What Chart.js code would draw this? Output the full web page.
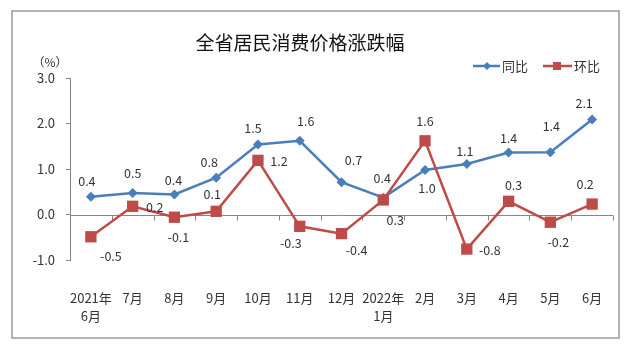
<!DOCTYPE html>
<html>
<head>
<meta charset="utf-8">
<script src="https://cdn.jsdelivr.net/npm/chart.js@4/dist/chart.umd.min.js"></script>
<style>
  html, body { margin: 0; padding: 0; background: #fff; }
  #wrap { width: 633px; height: 353px; }
</style>
</head>
<body>
<div id="wrap"><canvas id="cpi" width="633" height="353"></canvas></div>
<script>
// 数据
const categories = [['2021年', '6月'], '7月', '8月', '9月', '10月', '11月', '12月', ['2022年', '1月'], '2月', '3月', '4月', '5月', '6月'];
const yoyValues = [0.39, 0.47, 0.44, 0.81, 1.54, 1.62, 0.71, 0.37, 0.98, 1.11, 1.36, 1.37, 2.09];
const momValues = [-0.49, 0.18, -0.06, 0.07, 1.19, -0.26, -0.42, 0.32, 1.62, -0.76, 0.29, -0.17, 0.23];
const seriesNames = ['同比', '环比'];
const yMin = -1, yMax = 3, yStep = 1;

// 数据标签的偏移 (相对点的位置)
const yoyLabelOffset = [[-4, -16], [0, -20], [-1, -14], [-7, -15], [-5, -16], [6, -20], [12, -22], [-1, -19], [2, 18], [-2, -13], [0, -14], [1, -26], [-8, -16]];
const momLabelOffset = [[20, 19], [22, 1], [4, 20], [-4, -17], [21, 1], [-9, 17], [15, 17], [12, 20], [0, -20], [23, 1], [5, -16], [8, 20], [-7, -20]];

const FONT = '"Noto Sans CJK SC", "Noto Sans", sans-serif';
const BLUE = '#4A7EBB';
const RED = '#BE4B48';
const AXIS = '#868686';
const TEXT = '#333333';

const framePlugin = {
  id: 'frame',
  beforeDraw(chart) {
    const ctx = chart.ctx;
    ctx.save();
    ctx.strokeStyle = '#9a9a9a';
    ctx.lineWidth = 1.5;
    ctx.strokeRect(12, 11, 607, 327);

    // 标题
    ctx.fillStyle = '#111';
    ctx.font = '19px ' + FONT;
    ctx.textAlign = 'center';
    ctx.textBaseline = 'middle';
    ctx.fillText('全省居民消费价格涨跌幅', 300, 43);

    // 单位
    ctx.fillStyle = TEXT;
    ctx.font = '12px ' + FONT;
    ctx.fillText('（%）', 50, 62);

    // 图例
    const ly = 66;
    ctx.lineWidth = 2.5;
    ctx.strokeStyle = BLUE;
    ctx.beginPath(); ctx.moveTo(473, ly); ctx.lineTo(500, ly); ctx.stroke();
    ctx.fillStyle = BLUE;
    ctx.beginPath();
    ctx.moveTo(487, ly - 4); ctx.lineTo(491, ly); ctx.lineTo(487, ly + 4); ctx.lineTo(483, ly);
    ctx.closePath(); ctx.fill();
    ctx.strokeStyle = RED;
    ctx.beginPath(); ctx.moveTo(543, ly); ctx.lineTo(572, ly); ctx.stroke();
    ctx.fillStyle = RED;
    ctx.fillRect(553, ly - 4, 8, 8);
    ctx.fillStyle = TEXT;
    ctx.font = '13px ' + FONT;
    ctx.textAlign = 'left';
    ctx.fillText(seriesNames[0], 502, ly);
    ctx.fillText(seriesNames[1], 574, ly);
    ctx.restore();
  },
  beforeDatasetsDraw(chart) {
    // 0 轴及刻度
    const ctx = chart.ctx;
    const area = chart.chartArea;
    const y0 = Math.round(chart.scales.y.getPixelForValue(0)) + 0.5;
    const n = categories.length;
    const w = (area.right - area.left) / n;
    ctx.save();
    ctx.strokeStyle = AXIS;
    ctx.lineWidth = 1;
    ctx.beginPath();
    ctx.moveTo(area.left, y0);
    ctx.lineTo(area.right, y0);
    for (let i = 1; i <= n; i++) {
      const x = Math.round(area.left + i * w) + 0.5;
      ctx.moveTo(x, y0);
      ctx.lineTo(x, y0 + 5);
    }
    ctx.stroke();
    ctx.restore();
  },
  afterDatasetsDraw(chart) {
    const ctx = chart.ctx;
    ctx.save();
    ctx.fillStyle = TEXT;
    ctx.font = '12.5px ' + FONT;
    ctx.textAlign = 'center';
    ctx.textBaseline = 'middle';
    const offsets = [yoyLabelOffset, momLabelOffset];
    chart.data.datasets.forEach((ds, di) => {
      const meta = chart.getDatasetMeta(di);
      meta.data.forEach((pt, i) => {
        const off = offsets[di][i];
        ctx.fillText(ds.data[i].toFixed(1), pt.x + off[0], pt.y + off[1]);
      });
    });
    ctx.restore();
  }
};

new Chart(document.getElementById('cpi'), {
  type: 'line',
  data: {
    labels: categories,
    datasets: [
      {
        label: seriesNames[0],
        data: yoyValues,
        borderColor: BLUE,
        backgroundColor: BLUE,
        borderWidth: 2.5,
        pointStyle: 'rectRot',
        pointRadius: 5,
        pointBorderWidth: 0,
        tension: 0,
        order: 1
      },
      {
        label: seriesNames[1],
        data: momValues,
        borderColor: RED,
        backgroundColor: RED,
        borderWidth: 2.5,
        pointStyle: 'rect',
        pointRadius: 8,
        pointBorderWidth: 0,
        tension: 0,
        order: 0
      }
    ]
  },
  options: {
    responsive: false,
    animation: false,
    events: [],
    layout: { padding: { left: 0, right: 20, top: 78, bottom: 0 } },
    plugins: {
      legend: { display: false },
      title: { display: false },
      tooltip: { enabled: false }
    },
    scales: {
      x: {
        offset: true,
        border: { display: false },
        grid: { display: false, drawTicks: false },
        ticks: {
          color: TEXT,
          padding: 29,
          maxRotation: 0,
          autoSkip: false,
          font: { family: FONT, size: 13, lineHeight: 1.4 }
        },
        afterFit(scale) { scale.height = 93; }
      },
      y: {
        min: yMin,
        max: yMax,
        border: { display: true, color: AXIS, width: 1 },
        grid: { drawOnChartArea: false, drawTicks: true, tickLength: 4, color: AXIS },
        ticks: {
          stepSize: yStep,
          color: TEXT,
          padding: 11,
          font: { family: FONT, size: 13 },
          callback: v => v.toFixed(1)
        },
        afterFit(scale) { scale.width = 70; }
      }
    }
  },
  plugins: [framePlugin]
});
</script>
</body>
</html>
